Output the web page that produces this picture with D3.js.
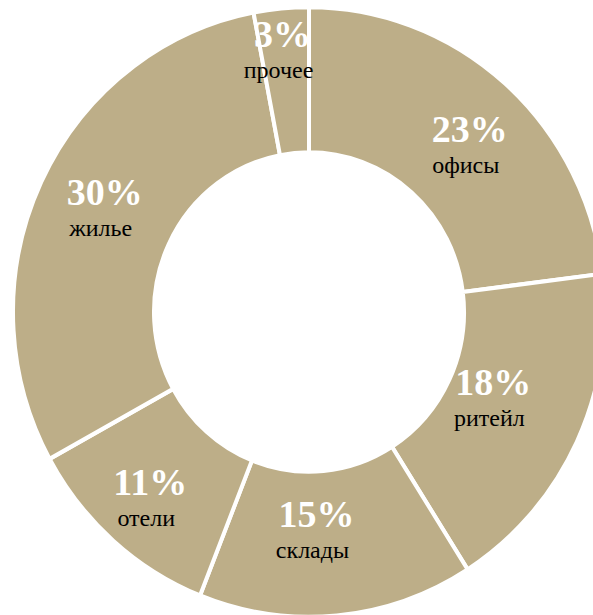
<!DOCTYPE html>
<html>
<head>
<meta charset="utf-8">
<script src="https://cdn.jsdelivr.net/npm/d3@7"></script>
<style>
  body { margin: 0; background: #fff; }
  svg { display: block; }
</style>
</head>
<body>
<svg id="drawing_region"></svg>
<script>
// shares of each segment, clockwise from 12 o'clock
const categories = ['офисы', 'ритейл', 'склады', 'отели', 'жилье', 'прочее'];
const values = [23, 18, 15, 11, 30, 3];
const percentLabels = ['23%', '18%', '15%', '11%', '30%', '3%'];

// hand placement of the labels, like in the original
const labelNudge = [[10, 6], [-22, -17], [-14, -19], [-8, 7], [2, -7], [-5, -31]];

const data = categories.map((c, i) => ({ label: c, value: values[i], pct: percentLabels[i], nudge: labelNudge[i] }));

const config = {
    parent: '#drawing_region',
    width: 593,
    height: 615,
    cx: 309,
    cy: 312,
    inner: 155,
    outer: 296,
    stretch: 1.03,
    color: '#bdae88'
};

class DonutPlot {
    constructor(config, data) {
        this.config = config;
        this.data = data;
        this.init();
    }

    init() {
        let self = this;
        self.svg = d3.select(self.config.parent)
            .attr('width', self.config.width)
            .attr('height', self.config.height);

        self.chart = self.svg.append('g')
            .attr('transform', `translate(${self.config.cx}, ${self.config.cy}) scale(1, ${self.config.stretch})`);

        self.labels = self.svg.append('g');

        self.pie = d3.pie().sort(null).value(d => d.value);
        self.arc = d3.arc()
            .innerRadius(self.config.inner)
            .outerRadius(self.config.outer);
        self.text = d3.arc()
            .innerRadius(228)
            .outerRadius(228);
    }

    render() {
        let self = this;
        const arcs = self.pie(self.data);

        self.chart.selectAll('path')
            .data(arcs)
            .join('path')
            .attr('d', self.arc)
            .attr('fill', self.config.color)
            .attr('stroke', 'white')
            .style('stroke-width', '4px');

        const pos = d => {
            const c = self.text.centroid(d);
            return [self.config.cx + c[0] + d.data.nudge[0],
                    self.config.cy + c[1] * self.config.stretch + d.data.nudge[1]];
        };

        self.labels.selectAll('text.pct')
            .data(arcs)
            .join('text')
            .attr('class', 'pct')
            .attr('x', d => pos(d)[0])
            .attr('y', d => pos(d)[1])
            .attr('text-anchor', 'middle')
            .attr('fill', 'white')
            .style('font-family', '"Liberation Serif", "DejaVu Serif", serif')
            .style('font-weight', 'bold')
            .style('font-size', '38px')
            .text(d => d.data.pct);

        self.labels.selectAll('text.name')
            .data(arcs)
            .join('text')
            .attr('class', 'name')
            .attr('x', d => pos(d)[0] - 4)
            .attr('y', d => pos(d)[1] + 31)
            .attr('text-anchor', 'middle')
            .attr('fill', 'black')
            .style('font-family', '"Liberation Serif", "DejaVu Serif", serif')
            .style('font-size', '24px')
            .text(d => d.data.label);
    }
}

const donut = new DonutPlot(config, data);
donut.render();
</script>
</body>
</html>
